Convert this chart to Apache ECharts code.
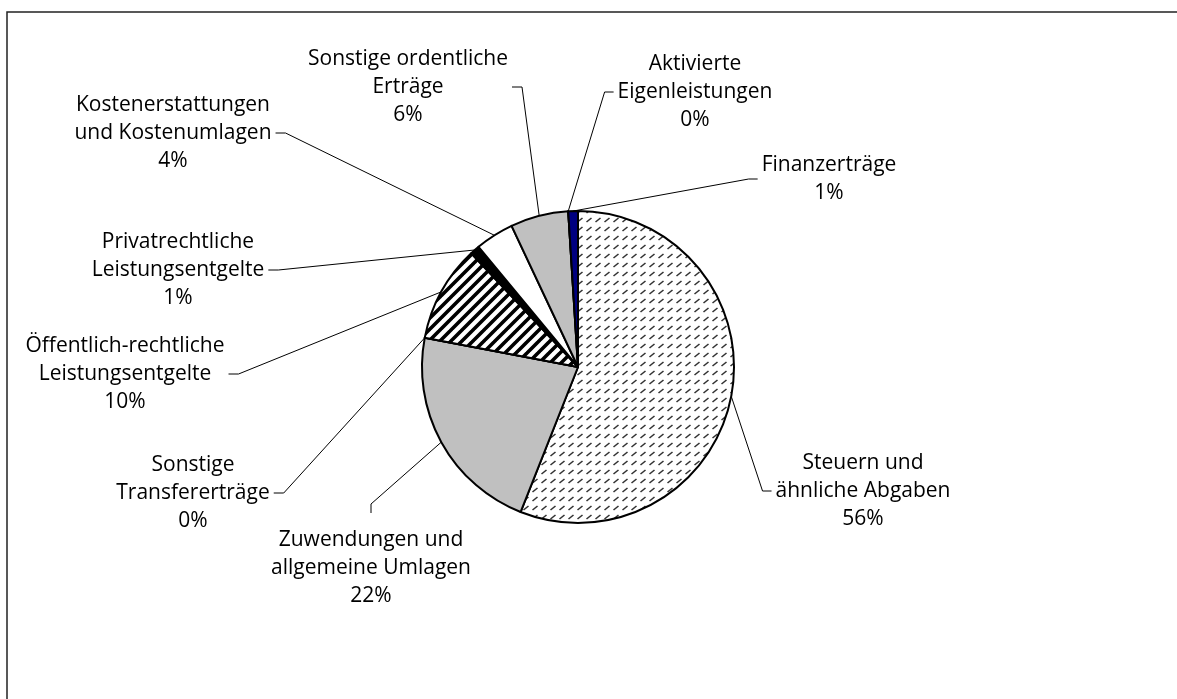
<!DOCTYPE html>
<html>
<head>
<meta charset="utf-8">
<style>
  html, body { margin: 0; padding: 0; background: #fff; }
  #chart { width: 1177px; height: 699px; }
</style>
<script src="https://cdn.jsdelivr.net/npm/echarts@6/dist/echarts.min.js"></script>
</head>
<body>
<div id="chart"></div>
<script>
// Anteile der ordentlichen Erträge (in %)
var categories = [
    'Steuern und\nähnliche Abgaben',
    'Zuwendungen und\nallgemeine Umlagen',
    'Sonstige\nTransfererträge',
    'Öffentlich-rechtliche\nLeistungsentgelte',
    'Privatrechtliche\nLeistungsentgelte',
    'Kostenerstattungen\nund Kostenumlagen',
    'Sonstige ordentliche\nErträge',
    'Aktivierte\nEigenleistungen',
    'Finanzerträge'
];
var shares = [56, 22, 0, 10, 1, 4, 6, 0, 1];

// wo die Beschriftungen stehen (Mitte des Textblocks) und wo der Strich ansetzt
var labelPos = [[863, 491], [371, 568], [193, 493], [125, 374], [178, 270], [173, 133], [408, 87], [695, 92], [829, 179]];
var tickSide = ['left', 'top', 'right', 'right', 'right', 'right', 'right', 'left', 'left'];

// Schraffuren wie im Original
function dashPattern() {
    var c = document.createElement('canvas');
    c.width = 9; c.height = 9;
    var ctx = c.getContext('2d');
    ctx.fillStyle = '#fff';
    ctx.fillRect(0, 0, 9, 9);
    ctx.strokeStyle = '#333';
    ctx.lineWidth = 1.6;
    ctx.beginPath();
    ctx.moveTo(1.5, 6);
    ctx.lineTo(6.5, 2);
    ctx.stroke();
    return c;
}

function stripePattern() {
    var s = 11;
    var c = document.createElement('canvas');
    c.width = s; c.height = s;
    var ctx = c.getContext('2d');
    ctx.fillStyle = '#fff';
    ctx.fillRect(0, 0, s, s);
    ctx.strokeStyle = '#000';
    ctx.lineWidth = 3.6;
    ctx.beginPath();
    for (var k = -1; k <= 1; k++) {
        ctx.moveTo(k * s - 1, s + 1);
        ctx.lineTo(k * s + s + 1, -1);
    }
    ctx.stroke();
    return c;
}

var fills = [
    {image: dashPattern(), repeat: 'repeat'},
    '#c0c0c0',
    '#c0c0c0',
    {image: stripePattern(), repeat: 'repeat'},
    '#000000',
    '#ffffff',
    '#c0c0c0',
    '#ffffff',
    '#000080'
];

var data = [];
for (var i = 0; i < categories.length; i++) {
    data.push({
        name: categories[i],
        value: shares[i],
        itemStyle: {color: fills[i]}
    });
}

var myChart = echarts.init(document.getElementById('chart'));
myChart.setOption({
    animation: false,
    backgroundColor: '#fff',
    graphic: [{
        type: 'rect',
        shape: {x: 7, y: 12, width: 1300, height: 800},
        style: {fill: 'none', stroke: '#222', lineWidth: 1.5},
        silent: true
    }],
    series: [{
        type: 'pie',
        center: [578, 367],
        radius: 156,
        startAngle: 90,
        clockwise: true,
        avoidLabelOverlap: false,
        minShowLabelAngle: 0,
        itemStyle: {borderColor: '#000', borderWidth: 2},
        label: {
            show: true,
            color: '#000',
            fontFamily: 'Open Sans',
            fontSize: 21,
            lineHeight: 28,
            align: 'center',
            formatter: function (p) {
                return p.name + '\n' + shares[p.dataIndex] + '%';
            }
        },
        labelLine: {
            show: true,
            length: 20,
            length2: 10,
            lineStyle: {color: '#000', width: 1}
        },
        labelLayout: function (p) {
            var i = p.dataIndex;
            var pos = labelPos[i];
            var w = p.labelRect.width, h = p.labelRect.height;
            var start = p.labelLinePoints ? p.labelLinePoints[0] : [578, 367];
            var a, b;
            if (tickSide[i] === 'left') {
                b = [pos[0] - w / 2 - 4, pos[1]];
                a = [b[0] - 9, pos[1]];
            } else if (tickSide[i] === 'right') {
                b = [pos[0] + w / 2 + 4, pos[1]];
                a = [b[0] + 10, pos[1]];
            } else {
                b = [pos[0], pos[1] - h / 2 - 13];
                a = [pos[0], b[1] - 9];
            }
            return {
                x: pos[0],
                y: pos[1],
                align: 'center',
                verticalAlign: 'middle',
                labelLinePoints: [start, a, b]
            };
        },
        data: data
    }]
});
</script>
</body>
</html>
